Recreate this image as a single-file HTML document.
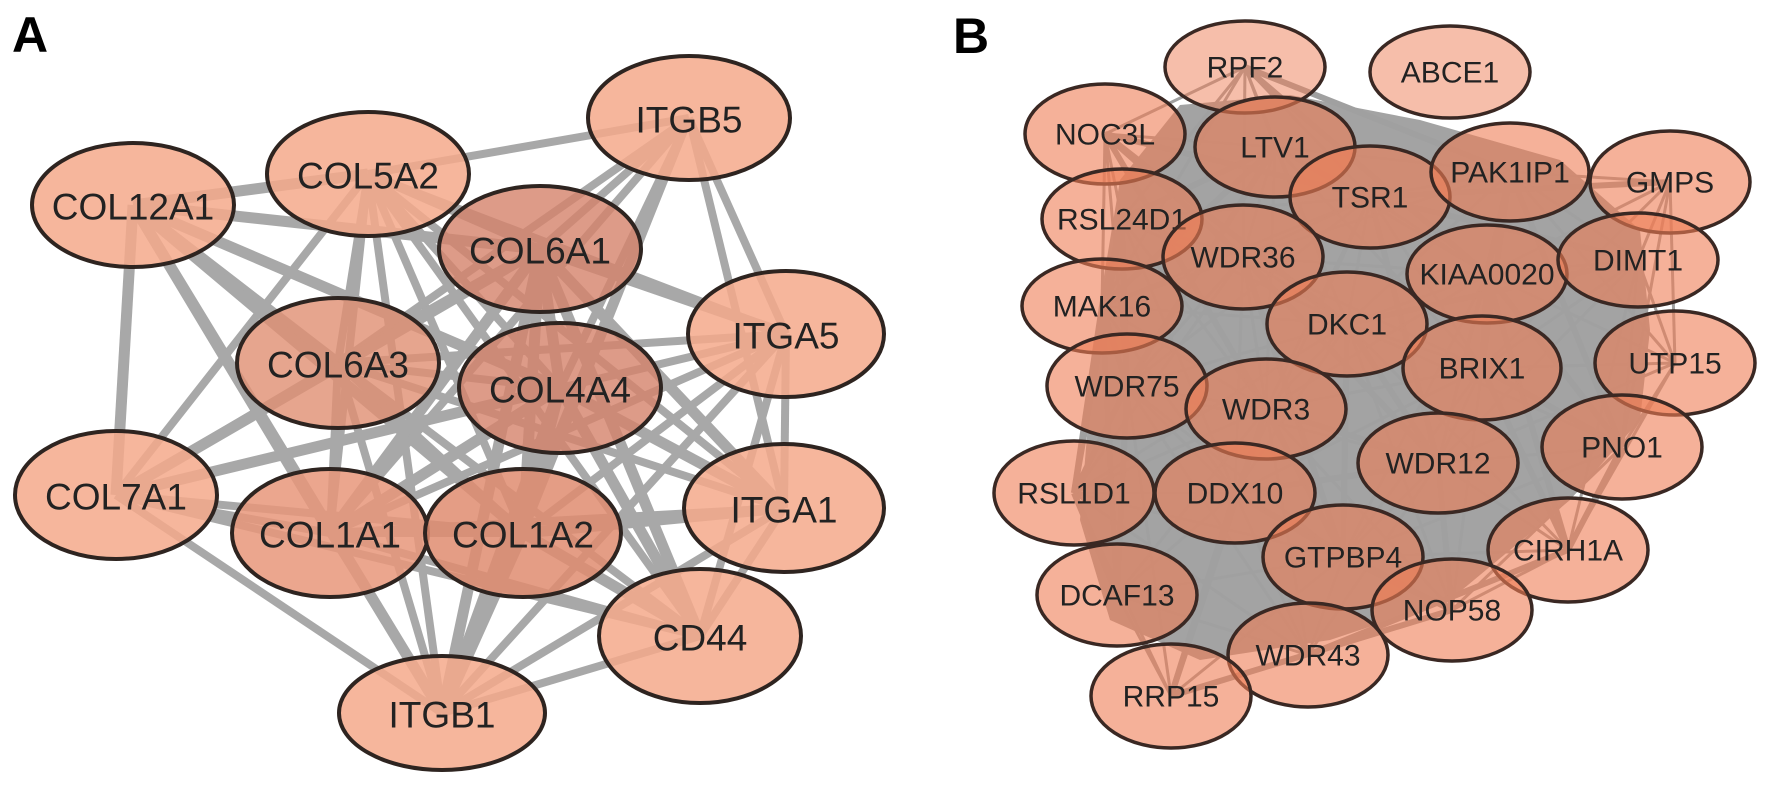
<!DOCTYPE html>
<html><head><meta charset="utf-8"><style>
html,body{margin:0;padding:0;background:#fff;}
svg{display:block}
text{font-family:"Liberation Sans",Arial,sans-serif;fill:#222;text-anchor:middle;dominant-baseline:central}
.a ellipse{fill:#f4a98b;fill-opacity:0.85;stroke:#2e2420;stroke-width:4}
.b ellipse{fill:#ee7d55;fill-opacity:0.6;stroke:#3a2823;stroke-width:3.5}
</style></head><body>
<svg id="s" width="1772" height="803" viewBox="0 0 1772 803" xmlns="http://www.w3.org/2000/svg">
<g id="ea" stroke="#a8a8a8" stroke-width="8" stroke-linecap="butt"></g>
<polygon points="1180,105 1290,95 1420,120 1560,160 1640,230 1650,330 1640,420 1570,500 1450,600 1330,640 1200,660 1110,620 1080,520 1090,400 1100,300 1120,180" fill="#a3a3a3"/>
<g id="eb" stroke="#a0a0a0" stroke-width="3"></g>
<text x="30" y="35" style="font-weight:bold;font-size:50px;fill:#000">A</text>
<text x="971" y="36" style="font-weight:bold;font-size:50px;fill:#000">B</text>
<g class="a" style="font-size:37px">
<ellipse cx="133" cy="205" rx="101" ry="62"/><text x="133" y="207">COL12A1</text>
<ellipse cx="368" cy="174" rx="101" ry="62"/><text x="368" y="176">COL5A2</text>
<ellipse cx="689" cy="118" rx="101" ry="62"/><text x="689" y="120">ITGB5</text>
<ellipse cx="540" cy="249" rx="101" ry="63" style="fill:#d4826a;fill-opacity:0.8"/><text x="540" y="251">COL6A1</text>
<ellipse cx="786" cy="334" rx="98" ry="63"/><text x="786" y="336">ITGA5</text>
<ellipse cx="338" cy="363" rx="101" ry="65" style="fill:#e08e72;fill-opacity:0.8"/><text x="338" y="365">COL6A3</text>
<ellipse cx="560" cy="388" rx="101" ry="65" style="fill:#d4826a;fill-opacity:0.8"/><text x="560" y="390">COL4A4</text>
<ellipse cx="116" cy="495" rx="101" ry="64"/><text x="116" y="497">COL7A1</text>
<ellipse cx="330" cy="533" rx="98" ry="64" style="fill:#e8967a"/><text x="330" y="535">COL1A1</text>
<ellipse cx="523" cy="533" rx="98" ry="64" style="fill:#df8c70"/><text x="523" y="535">COL1A2</text>
<ellipse cx="784" cy="508" rx="100" ry="64"/><text x="784" y="510">ITGA1</text>
<ellipse cx="700" cy="636" rx="101" ry="67"/><text x="700" y="638">CD44</text>
<ellipse cx="442" cy="713" rx="103" ry="57"/><text x="442" y="715">ITGB1</text>
</g>
<g class="b" style="font-size:30px">
<ellipse cx="1245" cy="67" rx="80" ry="46" style="fill-opacity:0.5"/><text x="1245" y="68">RPF2</text>
<ellipse cx="1450" cy="72" rx="80" ry="46" style="fill-opacity:0.5"/><text x="1450" y="73">ABCE1</text>
<ellipse cx="1105" cy="134" rx="80" ry="50"/><text x="1105" y="135">NOC3L</text>
<ellipse cx="1275" cy="147" rx="80" ry="50"/><text x="1275" y="148">LTV1</text>
<ellipse cx="1370" cy="197" rx="80" ry="51"/><text x="1370" y="198">TSR1</text>
<ellipse cx="1510" cy="172" rx="79" ry="49"/><text x="1510" y="173">PAK1IP1</text>
<ellipse cx="1670" cy="182" rx="80" ry="51"/><text x="1670" y="183">GMPS</text>
<ellipse cx="1122" cy="219" rx="80" ry="50"/><text x="1122" y="220">RSL24D1</text>
<ellipse cx="1243" cy="257" rx="80" ry="52"/><text x="1243" y="258">WDR36</text>
<ellipse cx="1487" cy="274" rx="80" ry="49"/><text x="1487" y="275">KIAA0020</text>
<ellipse cx="1638" cy="260" rx="80" ry="47"/><text x="1638" y="261">DIMT1</text>
<ellipse cx="1102" cy="306" rx="80" ry="47"/><text x="1102" y="307">MAK16</text>
<ellipse cx="1347" cy="324" rx="80" ry="52"/><text x="1347" y="325">DKC1</text>
<ellipse cx="1482" cy="368" rx="79" ry="52"/><text x="1482" y="369">BRIX1</text>
<ellipse cx="1675" cy="363" rx="80" ry="52"/><text x="1675" y="364">UTP15</text>
<ellipse cx="1127" cy="386" rx="80" ry="52"/><text x="1127" y="387">WDR75</text>
<ellipse cx="1266" cy="409" rx="80" ry="50"/><text x="1266" y="410">WDR3</text>
<ellipse cx="1622" cy="447" rx="80" ry="52"/><text x="1622" y="448">PNO1</text>
<ellipse cx="1438" cy="463" rx="80" ry="50"/><text x="1438" y="464">WDR12</text>
<ellipse cx="1074" cy="493" rx="80" ry="52"/><text x="1074" y="494">RSL1D1</text>
<ellipse cx="1235" cy="493" rx="80" ry="50"/><text x="1235" y="494">DDX10</text>
<ellipse cx="1568" cy="550" rx="80" ry="52"/><text x="1568" y="551">CIRH1A</text>
<ellipse cx="1343" cy="557" rx="80" ry="52"/><text x="1343" y="558">GTPBP4</text>
<ellipse cx="1117" cy="595" rx="80" ry="51"/><text x="1117" y="596">DCAF13</text>
<ellipse cx="1452" cy="610" rx="80" ry="51"/><text x="1452" y="611">NOP58</text>
<ellipse cx="1308" cy="655" rx="80" ry="52"/><text x="1308" y="656">WDR43</text>
<ellipse cx="1171" cy="696" rx="80" ry="52"/><text x="1171" y="697">RRP15</text>
</g>
</svg>
<script>
(function(){
var ns="http://www.w3.org/2000/svg";
function add(g,p,q,w){var l=document.createElementNS(ns,"line");l.setAttribute("x1",p[0]);l.setAttribute("y1",p[1]);l.setAttribute("x2",q[0]);l.setAttribute("y2",q[1]);if(w)l.setAttribute("stroke-width",w);g.appendChild(l);}
var A=[[133,205],[368,174],[689,118],[540,249],[786,334],[338,363],[560,388],[116,495],[330,533],[523,533],[784,508],[700,636],[442,713]];
var skip={"0-2":1,"0-4":1,"0-10":1,"0-11":1,"7-2":1,"7-4":1,"2-11":1,"2-7":1,"4-7":1,"10-7":1};
var ga=document.getElementById("ea");
for(var i=0;i<A.length;i++)for(var j=i+1;j<A.length;j++){if(skip[i+"-"+j]||skip[j+"-"+i])continue;add(ga,A[i],A[j],((i*7+j*3)%3)?8:11);}
var B=[[1245,67],[1105,134],[1275,147],[1370,197],[1510,172],[1670,182],[1122,219],[1243,257],[1487,274],[1638,260],[1102,306],[1347,324],[1482,368],[1675,363],[1127,386],[1266,409],[1622,447],[1438,463],[1074,493],[1235,493],[1568,550],[1343,557],[1117,595],[1452,610],[1308,655],[1171,696]];
var gb=document.getElementById("eb");
for(var i=0;i<B.length;i++)for(var j=i+1;j<B.length;j++){var dx=B[i][0]-B[j][0],dy=B[i][1]-B[j][1];if(Math.sqrt(dx*dx+dy*dy)>330)continue;add(gb,B[i],B[j],((i+j)%4)?3:6);}
})();
</script>
</body></html>
